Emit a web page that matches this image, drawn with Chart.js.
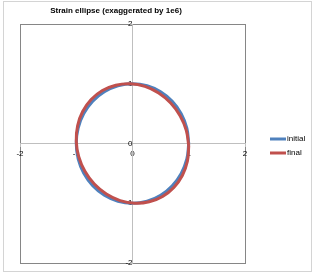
<!DOCTYPE html>
<html>
<head>
<meta charset="utf-8">
<script src="https://cdn.jsdelivr.net/npm/chart.js@4/dist/chart.umd.min.js"></script>
<style>
  html, body { margin: 0; padding: 0; background: #fff; }
  #wrap { width: 317px; height: 275px; position: relative; }
</style>
</head>
<body>
<div id="wrap"><canvas id="myChart" width="317" height="275"></canvas></div>
<script>
/****************
--- VARIABLES ---
*****************/

const titleText = "Strain ellipse (exaggerated by 1e6)";
const seriesNames = ["initial", "final"];
const seriesColors = ["#4f81bd", "#c0504d"];
const tickValues = [-2, -1, 0, 1, 2];

// initial shape (points every 15 degrees)
const initialX = [1, 0.966, 0.866, 0.707, 0.5, 0.259, 0, -0.259, -0.5, -0.707, -0.866, -0.966, -1,
  -0.966, -0.866, -0.707, -0.5, -0.259, 0, 0.259, 0.5, 0.707, 0.866, 0.966, 1];
const initialY = [0, 0.259, 0.5, 0.707, 0.866, 0.966, 1, 0.966, 0.866, 0.707, 0.5, 0.259, 0,
  -0.259, -0.5, -0.707, -0.866, -0.966, -1, -0.966, -0.866, -0.707, -0.5, -0.259, 0];

// final shape, slightly squeezed along the NE-SW diagonal
const finalX = [1, 0.956, 0.846, 0.679, 0.465, 0.22, -0.04, -0.298, -0.535, -0.735, -0.886, -0.976, -1,
  -0.956, -0.846, -0.679, -0.465, -0.22, 0.04, 0.298, 0.535, 0.735, 0.886, 0.976, 1];
const finalY = [-0.04, 0.22, 0.465, 0.679, 0.846, 0.956, 1, 0.976, 0.886, 0.735, 0.535, 0.298, 0.04,
  -0.22, -0.465, -0.679, -0.846, -0.956, -1, -0.976, -0.886, -0.735, -0.535, -0.298, -0.04];

const toPoints = (xs, ys) => xs.map((x, i) => ({ x: x, y: ys[i] }));
const fontFamily = "'Liberation Sans', Arial, sans-serif";

/*******************
  --- PLUGINS ---
********************/

// frame, plot box, title and legend drawn like the spreadsheet chart
const framePlugin = {
  id: "frame",
  beforeDraw(chart) {
    const c = chart.ctx;
    const a = chart.chartArea;
    c.save();
    c.strokeStyle = "#d4d4d4";
    c.lineWidth = 1;
    c.strokeRect(3.5, 1.5, 308, 270);
    c.strokeStyle = "#868686";
    c.strokeRect(Math.round(a.left) + 0.5, Math.round(a.top) + 0.5, Math.round(a.right - a.left), Math.round(a.bottom - a.top));
    c.restore();
  },
  afterDraw(chart) {
    const c = chart.ctx;
    c.save();
    c.font = "bold 8px " + fontFamily;
    c.fillStyle = "#000";
    c.textAlign = "center";
    c.textBaseline = "middle";
    c.fillText(titleText, 116, 11);

    // legend
    c.font = "8px " + fontFamily;
    c.textAlign = "left";
    c.lineWidth = 3;
    chart.data.datasets.forEach((ds, i) => {
      const y = 139 + i * 14;
      c.strokeStyle = ds.borderColor;
      c.beginPath();
      c.moveTo(270, y);
      c.lineTo(286, y);
      c.stroke();
      c.fillStyle = "#000";
      c.fillText(ds.label, 287, y);
    });
    c.restore();
  },
};

/*******************
  --- CHART ---
********************/

const axisOpts = (pos) => ({
  type: "linear",
  position: pos,
  min: -2,
  max: 2,
  afterBuildTicks: (axis) => {
    axis.ticks = tickValues.map((v) => ({ value: v }));
  },
  grid: { drawOnChartArea: false, drawTicks: true, tickLength: 3, color: "#bfbfbf" },
  border: { display: true, color: "#bfbfbf", width: 1 },
  ticks: {
    color: "#000",
    padding: 2,
    font: { size: 8, family: fontFamily },
  },
});

const ctx = document.getElementById("myChart").getContext("2d");
const myChart = new Chart(ctx, {
  type: "scatter",
  data: {
    datasets: [
      {
        label: seriesNames[0],
        data: toPoints(initialX, initialY),
        borderColor: seriesColors[0],
        backgroundColor: seriesColors[0],
        order: 1,
      },
      {
        label: seriesNames[1],
        data: toPoints(finalX, finalY),
        borderColor: seriesColors[1],
        backgroundColor: seriesColors[1],
        order: 0,
      },
    ],
  },
  options: {
    responsive: false,
    animation: false,
    showLine: true,
    elements: {
      line: { borderWidth: 3, tension: 0.4 },
      point: { radius: 0, hoverRadius: 0 },
    },
    layout: { padding: { left: 20, top: 24, bottom: 12, right: 72 } },
    scales: {
      x: axisOpts({ y: 0 }),
      y: axisOpts({ x: 0 }),
    },
    plugins: {
      tooltip: { enabled: false },
      title: { display: false },
      legend: { display: false },
    },
  },
  plugins: [framePlugin],
});
</script>
</body>
</html>
